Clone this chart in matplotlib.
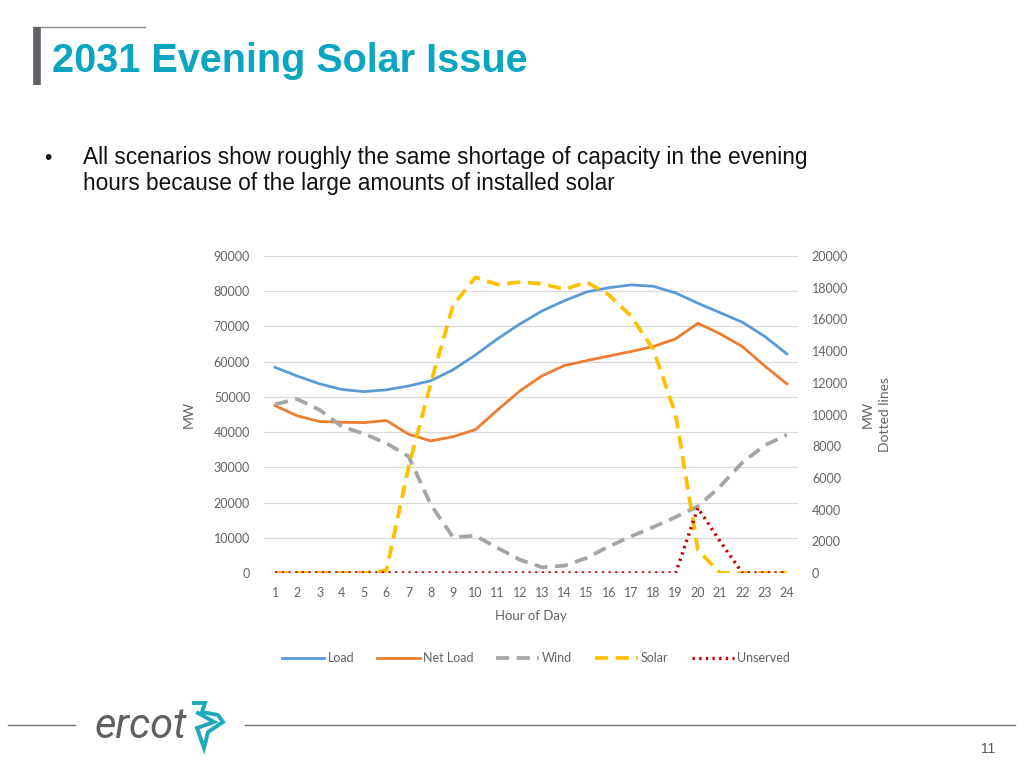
import matplotlib
matplotlib.use("Agg")
import matplotlib.pyplot as plt
from matplotlib.lines import Line2D

hours = list(range(1, 25))
load = [58400, 55900, 53700, 52100, 51500, 52000, 53100, 54600, 57700, 61900,
        66500, 70700, 74400, 77300, 79800, 81000, 81800, 81400, 79500, 76600,
        73900, 71200, 67200, 62200]
net_load = [47500, 44600, 43000, 42800, 42700, 43300, 39400, 37500, 38700, 40700,
            46300, 51700, 56000, 58900, 60300, 61600, 62900, 64300, 66500, 70900,
            67900, 64300, 58800, 53700]
wind = [10650, 10970, 10290, 9240, 8780, 8190, 7350, 4300, 2250, 2350,
        1580, 840, 360, 460, 950, 1680, 2310, 2900, 3530, 4200,
        5460, 6970, 8050, 8720]
solar = [0, 0, 0, 0, 0, 150, 6700, 12000, 16900, 18650,
         18200, 18350, 18250, 17900, 18350, 17550, 16200, 14100, 10000, 1450,
         0, 0, 0, 0]
unserved = [0, 0, 0, 0, 0, 0, 0, 0, 0, 0,
            0, 0, 0, 0, 0, 0, 0, 0, 0, 4100,
            2000, 0, 0, 0]

left_ticks = list(range(0, 90001, 10000))
right_ticks = list(range(0, 20001, 2000))

W, H = 1024, 768
fig = plt.figure(figsize=(W / 100, H / 100), dpi=100)
fig.patch.set_facecolor("white")

def fx(x):
    return x / W

def fy(y):
    return 1 - y / H

gray_txt = "#636363"
chart_font = "Lato"

# Header decorations
fig.add_artist(Line2D([fx(33), fx(145)], [fy(27), fy(27)], color="#8c8c8c", lw=1.0))
fig.add_artist(Line2D([fx(37), fx(37)], [fy(27), fy(85)], color="#5f6368", lw=5.5,
                      solid_capstyle="butt"))
fig.text(fx(52), fy(72), "2031 Evening Solar Issue", fontsize=28.5, fontweight="bold",
         color="#0aa5c0", family="Liberation Sans", va="baseline", ha="left")

fig.text(fx(44), fy(164), "\u2022", fontsize=15, color="#111111", family="Liberation Sans",
         va="baseline", ha="left")
fig.text(fx(83), fy(164), "All scenarios show roughly the same shortage of capacity in the evening",
         fontsize=16.3, color="#111111", family="Liberation Sans", va="baseline", ha="left")
fig.text(fx(83), fy(190), "hours because of the large amounts of installed solar",
         fontsize=16.3, color="#111111", family="Liberation Sans", va="baseline", ha="left")

# Chart
ax = fig.add_axes([fx(264), fy(573), (798 - 264) / W, (573 - 256) / H])
ax2 = ax.twinx()

c_load = "#5b9bd5"
c_net = "#ed7d31"
c_wind = "#a5a5a5"
c_solar = "#ffc000"
c_uns = "#c00000"

ax.plot(hours, load, color=c_load, lw=2.0, label="Load", zorder=3)
ax.plot(hours, net_load, color=c_net, lw=2.0, label="Net Load", zorder=3)
ax2.plot(hours, wind, color=c_wind, lw=2.7, dashes=(3.5, 2.0), label="Wind", zorder=3)
ax2.plot(hours, solar, color=c_solar, lw=2.7, dashes=(3.5, 2.0), label="Solar", zorder=3)
ax2.plot(hours, unserved, color=c_uns, lw=2.4, dashes=(0.7, 1.3), label="Unserved", zorder=4)

ax.set_xlim(0.5, 24.5)
ax.set_ylim(0, 90000)
ax2.set_ylim(0, 20000)
ax.set_yticks(left_ticks)
ax.set_yticklabels([str(v) for v in left_ticks])
ax2.set_yticks(right_ticks)
ax2.set_yticklabels([str(v) for v in right_ticks])
ax.set_xticks(hours)
ax.set_xticklabels([str(h) for h in hours])
ax.grid(axis="y", color="#d9d9d9", lw=0.9)
ax.set_axisbelow(True)

for a in (ax, ax2):
    for s in a.spines.values():
        s.set_visible(False)
    a.tick_params(length=0, labelsize=9, labelcolor=gray_txt)
    for lab in a.get_xticklabels() + a.get_yticklabels():
        lab.set_family(chart_font)
ax.tick_params(axis="y", pad=10)
ax2.tick_params(axis="y", pad=10)
ax.tick_params(axis="x", pad=10)

ax.set_xlabel("Hour of Day", fontsize=9.5, color=gray_txt, family=chart_font, labelpad=8)
ax.set_ylabel("MW", fontsize=10, color=gray_txt, family=chart_font, labelpad=14)
ax2.set_ylabel("MW\nDotted lines", fontsize=10, color=gray_txt, family=chart_font,
               labelpad=10, linespacing=1.5)

h1, l1 = ax.get_legend_handles_labels()
h2, l2 = ax2.get_legend_handles_labels()
leg = fig.legend(h1 + h2, l1 + l2, loc="center", bbox_to_anchor=(fx(536), fy(658)),
                 ncol=5, frameon=False, handlelength=3.4, handletextpad=0.25,
                 columnspacing=1.85, prop={"family": chart_font, "size": 9})
for t in leg.get_texts():
    t.set_color(gray_txt)

# Footer
fig.add_artist(Line2D([fx(8), fx(75)], [fy(725), fy(725)], color="#6d6e71", lw=1.0))
fig.add_artist(Line2D([fx(245), fx(1015)], [fy(725), fy(725)], color="#6d6e71", lw=1.0))
fig.text(fx(95), fy(738), "ercot", fontsize=30, style="italic", color="#5f6062",
         family="Roboto", fontweight="normal", va="baseline", ha="left")
fig.add_artist(Line2D([fx(v) for v in [194, 205, 202, 218, 223, 208, 204, 197, 214, 198]],
                      [fy(v) for v in [703, 703, 712, 715, 722, 732, 748, 728, 722, 713]],
                      color="#1fa7bb", lw=2.8, solid_joinstyle="miter"))
fig.text(fx(988), fy(753), "11", fontsize=10, color="#595959", family="Liberation Sans",
         ha="center", va="baseline")

fig.savefig("out.png", dpi=100, facecolor="white")
